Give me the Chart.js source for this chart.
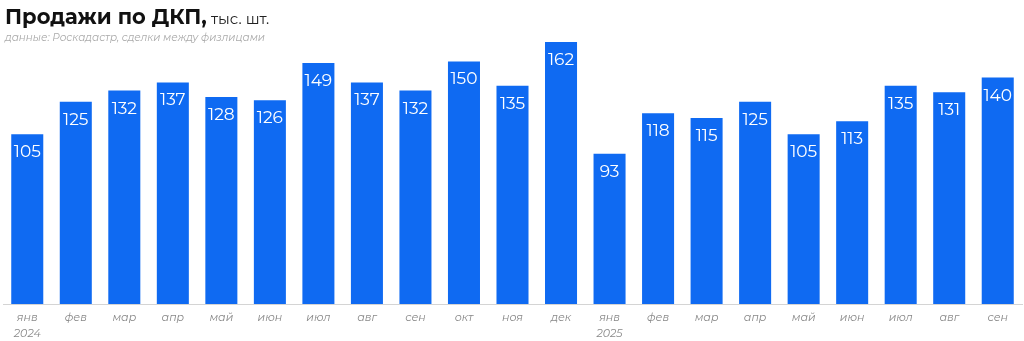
<!DOCTYPE html>
<html>
<head>
<meta charset="utf-8">
<script src="https://cdn.jsdelivr.net/npm/chart.js@4"></script>
<style>
  html, body { margin: 0; padding: 0; background: #fff; }
  #wrap { position: relative; width: 1024px; height: 341px; overflow: hidden; }
  #title { position: absolute; left: 5px; top: 4px; font-family: Montserrat, "Noto Sans", sans-serif; white-space: nowrap; }
  #title b { font-size: 21px; font-weight: 700; color: #111; }
  #title span { font-size: 15px; color: #222; }
  #sub { position: absolute; left: 5px; top: 31px; font-family: Montserrat, "Noto Sans", sans-serif; font-size: 10.4px; font-style: italic; color: #aaa; white-space: nowrap; }
  canvas { position: absolute; left: 0; top: 0; }
</style>
</head>
<body>
<div id="wrap">
  <canvas id="chart" width="1024" height="341"></canvas>
  <div id="title"><b>Продажи по ДКП,</b> <span>тыс. шт.</span></div>
  <div id="sub">данные: Роскадастр, сделки между физлицами</div>
</div>
<script>
const months = [['янв', '2024'], 'фев', 'мар', 'апр', 'май', 'июн', 'июл', 'авг', 'сен', 'окт', 'ноя', 'дек',
  ['янв', '2025'], 'фев', 'мар', 'апр', 'май', 'июн', 'июл', 'авг', 'сен'];
const sales = [105, 125, 132, 137, 128, 126, 149, 137, 132, 150, 135, 162,
  93, 118, 115, 125, 105, 113, 135, 131, 140];

const barLabels = {
  id: 'barLabels',
  afterDatasetsDraw(chart) {
    const ctx = chart.ctx;
    const meta = chart.getDatasetMeta(0);
    ctx.save();
    ctx.fillStyle = '#fff';
    ctx.font = '17px Montserrat, "Noto Sans", sans-serif';
    ctx.textAlign = 'center';
    ctx.textBaseline = 'middle';
    meta.data.forEach((bar, i) => {
      ctx.fillText(sales[i], bar.x, bar.y + 18);
    });
    ctx.restore();
  }
};

new Chart(document.getElementById('chart'), {
  type: 'bar',
  data: {
    labels: months,
    datasets: [{
      data: sales,
      backgroundColor: '#0f6af2',
      barPercentage: 0.66,
      categoryPercentage: 1
    }]
  },
  options: {
    responsive: false,
    animation: false,
    layout: { padding: { top: 42, left: 3, right: 2, bottom: -7 } },
    plugins: { legend: { display: false }, tooltip: { enabled: false } },
    scales: {
      x: {
        grid: { display: false, drawTicks: false },
        border: { color: '#d4d4d4', width: 1 },
        ticks: {
          color: '#888',
          font: { family: 'Montserrat, "Noto Sans", sans-serif', size: 11, style: 'italic', lineHeight: 1.45 },
          padding: 6,
          maxRotation: 0
        }
      },
      y: {
        display: false,
        min: 0,
        max: 162
      }
    }
  },
  plugins: [barLabels]
});
</script>
</body>
</html>
